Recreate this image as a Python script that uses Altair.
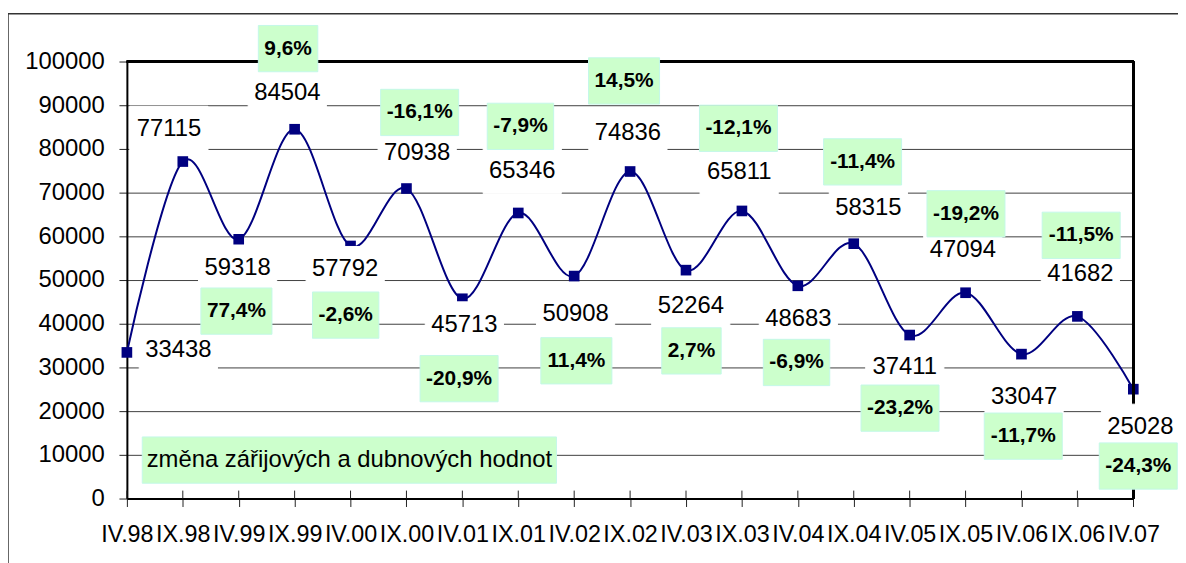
import altair as alt
import pandas as pd

# ---------------- data ----------------
periods = ["IV.98", "IX.98", "IV.99", "IX.99", "IV.00", "IX.00", "IV.01", "IX.01",
           "IV.02", "IX.02", "IV.03", "IX.03", "IV.04", "IX.04", "IV.05", "IX.05",
           "IV.06", "IX.06", "IV.07"]
values = [33438, 77115, 59318, 84504, 57792, 70938, 45713, 65346, 50908, 74836,
          52264, 65811, 48683, 58315, 37411, 47094, 33047, 41682, 25028]
# year-on-year change of the same month, attached to points 2..18
change_labels = ["77,4%", "9,6%", "-2,6%", "-16,1%", "-20,9%", "-7,9%", "11,4%",
                 "14,5%", "2,7%", "-12,1%", "-6,9%", "-11,4%", "-23,2%", "-19,2%",
                 "-11,7%", "-11,5%", "-24,3%"]
note_text = "změna zářijových a dubnových hodnot"
y_ticks = [0, 10000, 20000, 30000, 40000, 50000, 60000, 70000, 80000, 90000, 100000]

# ---------------- layout (pixels) ----------------
W, H = 1013.3, 440.0
PAD = {"left": 119.7, "top": 52, "right": 45, "bottom": 63}
PX_X = W / (len(periods) - 1)          # pixels per category step
U_Y = 100000 / H                       # data units per pixel

# label offsets from their point, in pixels (dx, dy)
value_label_off = [(51.8, -2.4), (-14, -32.7), (-1.1, 29), (-7.4, -36.2), (-5.4, 23.5),
                   (10.8, -36.2), (2, 26.1), (4, -42.5), (1.4, 38.7), (-2.2, -39),
                   (4.8, 35.7), (-2.8, -38.7), (0.5, 33.9), (14.7, -35.7), (-4.9, 32.6),
                   (-2.8, -43.3), (2.6, 43.4), (3, -42.8), (7.2, 38.1)]
change_off = [(-2.3, 72.3), (-6.6, -81.2), (-4.9, 69.6), (13.3, -76.6), (-3.3, 80.4),
              (2.2, -87.2), (2.2, 85.3), (-6.1, -91.2), (5.5, 81.3), (-3.5, -83.2),
              (-1.3, 77.2), (8.9, -82.4), (-9.7, 73.6), (0.4, -79.5), (1.8, 82.6),
              (3.8, -81.6), (5, 77.4)]

FONT = "Liberation Sans, Arial, sans-serif"
NAVY = "#000080"
GREEN = "#CCFFCC"

CW = {",": .278, "%": .889, "-": .333, ".": .278}


def text_w(s, size):
    return sum(CW.get(c, .556) for c in s) * size


df = pd.DataFrame({"i": list(range(len(periods))), "period": periods, "value": values})

# value labels with white backgrounds
rows = []
for i, v in enumerate(values):
    dx, dy = value_label_off[i]
    cx = i + dx / PX_X
    cy = v - dy * U_Y
    hw = (text_w(str(v), 24) + 12) / 2 / PX_X
    hh = 23 * U_Y
    rows.append({"tx": cx, "ty": cy, "x1": cx - hw, "x2": cx + hw,
                 "y1": cy - hh, "y2": cy + hh, "text": str(v)})
df_vl = pd.DataFrame(rows)

rows = []
for k, lab in enumerate(change_labels):
    i = k + 2
    dx, dy = change_off[k]
    cx = i + dx / PX_X
    cy = values[i] - dy * U_Y
    hw = (text_w(lab, 21) + 12) / 2 / PX_X
    hh = 23.3 * U_Y
    rows.append({"tx": cx, "ty": cy, "x1": cx - hw, "x2": cx + hw,
                 "y1": cy - hh, "y2": cy + hh, "text": lab})
df_ch = pd.DataFrame(rows)

# note box anchored near IV.00
note_i, note_v = 4, 8800
note_hw = 208.5 / PX_X
df_note = pd.DataFrame([{"tx": note_i - 0.021, "ty": note_v,
                         "x1": note_i - 0.021 - note_hw, "x2": note_i - 0.021 + note_hw,
                         "y1": note_v - 23.3 * U_Y, "y2": note_v + 23.3 * U_Y,
                         "text": note_text}])

xs = alt.Scale(domain=[0, len(periods) - 1], nice=False, zero=False)
ys = alt.Scale(domain=[0, 100000], nice=False)

label_expr = "[" + ",".join("'" + p + "'" for p in periods) + "][datum.value]"

x_axis = alt.Axis(values=list(range(len(periods))), labelExpr=label_expr, title=None,
                  grid=False, domainColor="black", domainWidth=2, tickColor="#222222",
                  tickWidth=1, tickSize=8, labelFont=FONT, labelFontSize=23.5,
                  labelColor="black", labelPadding=16.5, labelOverlap=False,
                  labelFlush=False)
y_axis = alt.Axis(values=y_ticks, format="d", title=None, grid=True, gridColor="#404040",
                  gridWidth=1, domainColor="black", domainWidth=2, tickColor="#222222",
                  tickWidth=1, tickSize=8, labelFont=FONT, labelFontSize=24,
                  labelColor="black", labelPadding=14.7)


def X(field):
    return alt.X(field, scale=xs, axis=x_axis, title=None)


def Y(field):
    return alt.Y(field, scale=ys, axis=y_axis, title=None)


line = alt.Chart(df).mark_line(color=NAVY, strokeWidth=2, interpolate="cardinal").encode(
    x=X("i:Q"), y=Y("value:Q"))

points = alt.Chart(df).mark_square(size=115, color=NAVY, opacity=1).encode(
    x=X("i:Q"), y=Y("value:Q"))

inner_ticks = alt.Chart(df).mark_rule(color="#222222", strokeWidth=1).encode(
    x=X("i:Q"), y=alt.value(H), y2=alt.value(H - 8))

top_border = alt.Chart(df).mark_rule(color="black", strokeWidth=2).encode(
    x=alt.value(0), x2=alt.value(W), y=alt.value(0))
right_border = alt.Chart(df).mark_rule(color="black", strokeWidth=2).encode(
    x=alt.value(W), y=alt.value(0), y2=alt.value(H))


def boxed(data, fill, stroke, size, weight):
    box = alt.Chart(data).mark_rect(fill=fill, stroke=stroke, strokeWidth=1).encode(
        x=X("x1:Q"), x2="x2:Q", y=Y("y1:Q"), y2="y2:Q")
    txt = alt.Chart(data).mark_text(font=FONT, fontSize=size, fontWeight=weight,
                                    color="black", align="center",
                                    baseline="middle").encode(
        x=X("tx:Q"), y=Y("ty:Q"), text="text:N")
    return box + txt


value_labels = boxed(df_vl, "white", "white", 24, "normal")
change_boxes = boxed(df_ch, GREEN, "#C4F8E8", 21, "bold")
note_box = boxed(df_note, GREEN, "#C4F8E8", 24, "normal")

outer = alt.Chart(pd.DataFrame([{"a": 1}])).mark_rect(
    fill="white", fillOpacity=0, stroke="#333333", strokeWidth=1.5).encode(
    x=alt.value(-PAD["left"]), x2=alt.value(W + 57.3),
    y=alt.value(-48), y2=alt.value(H + 80))

chart = alt.layer(
    line, points, inner_ticks, top_border, right_border,
    value_labels, change_boxes, note_box, outer
).properties(
    width=W, height=H,
    autosize=alt.AutoSizeParams(type="none"),
    padding=PAD,
    background="white",
).configure_view(stroke=None)

chart.save("out.html", embed_options={"renderer": "svg", "actions": False})
